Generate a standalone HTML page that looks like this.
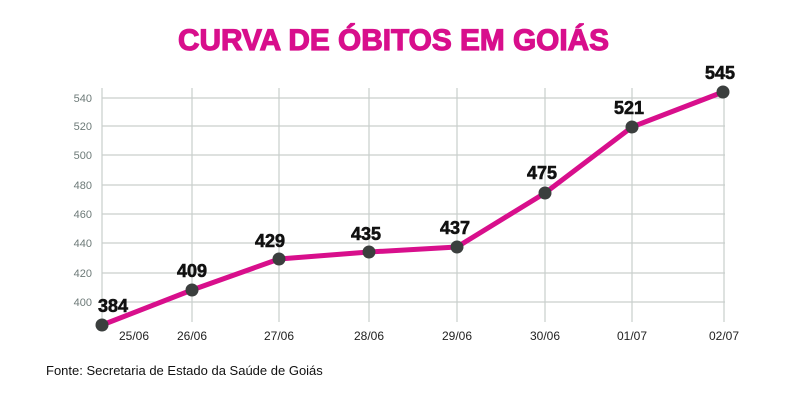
<!DOCTYPE html>
<html><head><meta charset="utf-8"><style>
html,body{margin:0;padding:0;background:#fff;}
svg{display:block;font-family:"Liberation Sans",sans-serif;}
</style></head><body>
<svg width="800" height="405" viewBox="0 0 800 405">
<text x="178" y="50" font-size="30" font-weight="bold" fill="#d80f8c" textLength="431" lengthAdjust="spacingAndGlyphs" stroke="#d80f8c" stroke-width="1.2">CURVA DE ÓBITOS EM GOIÁS</text>
<g stroke="#c9cfcc" stroke-width="1.2">
<line x1="102" y1="98" x2="725" y2="98"/>
<line x1="102" y1="126" x2="725" y2="126"/>
<line x1="102" y1="155" x2="725" y2="155"/>
<line x1="102" y1="185" x2="725" y2="185"/>
<line x1="102" y1="214" x2="725" y2="214"/>
<line x1="102" y1="243" x2="725" y2="243"/>
<line x1="102" y1="273" x2="725" y2="273"/>
<line x1="102" y1="302" x2="725" y2="302"/>
<line x1="102" y1="88" x2="102" y2="322"/>
<line x1="192" y1="88" x2="192" y2="322"/>
<line x1="279" y1="88" x2="279" y2="322"/>
<line x1="369" y1="88" x2="369" y2="322"/>
<line x1="457" y1="88" x2="457" y2="322"/>
<line x1="545" y1="88" x2="545" y2="322"/>
<line x1="632" y1="88" x2="632" y2="322"/>
<line x1="724" y1="88" x2="724" y2="322"/>
</g>
<g font-size="11" fill="#6d7a78" text-anchor="end">
<text x="92" y="102">540</text><text x="92" y="130">520</text><text x="92" y="159">500</text>
<text x="92" y="189">480</text><text x="92" y="218">460</text><text x="92" y="247">440</text>
<text x="92" y="277">420</text><text x="92" y="306">400</text>
</g>
<g font-size="12" fill="#222" text-anchor="middle">
<text x="134" y="340">25/06</text><text x="192" y="340">26/06</text><text x="279" y="340">27/06</text>
<text x="369" y="340">28/06</text><text x="457" y="340">29/06</text><text x="545" y="340">30/06</text>
<text x="632" y="340">01/07</text><text x="724" y="340">02/07</text>
</g>
<polyline points="102,325 192,290 279,259 369,252 457,247 545,193 632,127 723,92" fill="none" stroke="#d80f8c" stroke-width="5" stroke-linejoin="round"/>
<g fill="#3b3f3e">
<circle cx="102" cy="325" r="6.5"/><circle cx="192" cy="290" r="6.5"/><circle cx="279" cy="259" r="6.5"/>
<circle cx="369" cy="252" r="6.5"/><circle cx="457" cy="247" r="6.5"/><circle cx="545" cy="193" r="6.5"/>
<circle cx="632" cy="127" r="6.5"/><circle cx="723" cy="92" r="6.5"/>
</g>
<g font-size="18" font-weight="bold" fill="#111" text-anchor="middle" stroke="#111" stroke-width="0.6">
<text x="113" y="312">384</text><text x="192" y="277">409</text><text x="270" y="247">429</text>
<text x="366" y="240">435</text><text x="455" y="234">437</text><text x="542" y="179">475</text>
<text x="629" y="114">521</text><text x="720" y="79">545</text>
</g>
<text x="46" y="375" font-size="13" fill="#111">Fonte: Secretaria de Estado da Saúde de Goiás</text>
</svg>
</body></html>
